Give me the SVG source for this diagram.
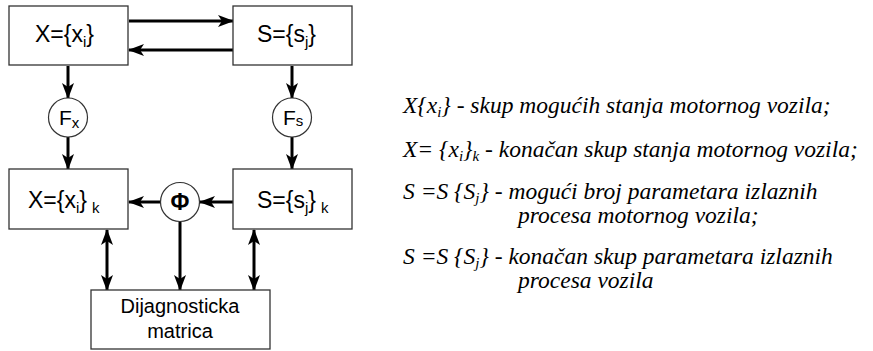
<svg xmlns="http://www.w3.org/2000/svg" width="873" height="351" viewBox="0 0 873 351">
<style>
.box{fill:#fff;stroke:#333;stroke-width:1.3}
.circ{fill:#fff;stroke:#333;stroke-width:1.2}
.lbl{font-family:"Liberation Sans",Arial,sans-serif;font-size:23px;fill:#000}
.sub{font-size:15px}
.conn{stroke:#000;stroke-width:3;fill:none}
.txt{font-family:"Liberation Serif","Times New Roman",serif;font-style:italic;font-size:23.5px;fill:#000}
.tsub{font-size:15px}
</style>
<defs>
<marker id="ah" markerUnits="userSpaceOnUse" markerWidth="16" markerHeight="12" viewBox="0 0 16 12" refX="15" refY="6" orient="auto-start-reverse">
<path d="M0,0 L16,6 L0,12 L4,6 Z" fill="#000"/>
</marker>
</defs>
<rect width="873" height="351" fill="#fff"/>
<g id="connectors">
<line class="conn" x1="129" y1="21" x2="233" y2="21" marker-end="url(#ah)"/>
<line class="conn" x1="233" y1="50" x2="129" y2="50" marker-end="url(#ah)"/>
<line class="conn" x1="68" y1="66" x2="68" y2="98" marker-end="url(#ah)"/>
<line class="conn" x1="68" y1="137" x2="68" y2="169" marker-end="url(#ah)"/>
<line class="conn" x1="292" y1="66" x2="292" y2="98" marker-end="url(#ah)"/>
<line class="conn" x1="292" y1="137" x2="292" y2="169" marker-end="url(#ah)"/>
<line class="conn" x1="233" y1="202" x2="200" y2="202" marker-end="url(#ah)"/>
<line class="conn" x1="160" y1="202" x2="129" y2="202" marker-end="url(#ah)"/>
<line class="conn" x1="180" y1="222" x2="180" y2="290" marker-end="url(#ah)"/>
<line class="conn" x1="107" y1="230" x2="107" y2="290" marker-start="url(#ah)" marker-end="url(#ah)"/>
<line class="conn" x1="254" y1="230" x2="254" y2="290" marker-start="url(#ah)" marker-end="url(#ah)"/>
</g>
<g id="node-X">
<rect class="box" x="9" y="6" width="119" height="59"/>
<text class="lbl" x="35" y="42">X={x<tspan class="sub" dy="5">i</tspan><tspan dy="-5">}</tspan></text>
</g>
<g id="node-S">
<rect class="box" x="233" y="6" width="119" height="59"/>
<text class="lbl" x="257" y="42">S={s<tspan class="sub" dy="5">j</tspan><tspan dy="-5">}</tspan></text>
</g>
<g id="node-Fx">
<circle class="circ" cx="68" cy="117.5" r="19.5"/>
<text class="lbl" x="59" y="125" style="font-size:21px">F<tspan class="sub" dy="3">x</tspan></text>
</g>
<g id="node-Fs">
<circle class="circ" cx="292" cy="117.5" r="19.5"/>
<text class="lbl" x="283" y="125" style="font-size:21px">F<tspan class="sub" dy="1">s</tspan></text>
</g>
<g id="node-Xk">
<rect class="box" x="9" y="169" width="119" height="60"/>
<text class="lbl" x="28" y="208">X={x<tspan class="sub" dy="5">i</tspan><tspan dy="-5">}</tspan><tspan class="sub" dx="5" dy="5">k</tspan></text>
</g>
<g id="node-Sk">
<rect class="box" x="233" y="169" width="119" height="60"/>
<text class="lbl" x="257" y="208">S={s<tspan class="sub" dy="5">j</tspan><tspan dy="-5">}</tspan><tspan class="sub" dx="5" dy="5">k</tspan></text>
</g>
<g id="node-Phi">
<circle class="circ" cx="180" cy="202" r="19.5"/>
<text class="lbl" x="180" y="210" text-anchor="middle" style="font-weight:bold;font-size:23px">Φ</text>
</g>
<g id="node-D">
<rect class="box" x="91" y="290" width="179" height="59"/>
<text class="lbl" x="180" y="313" text-anchor="middle" style="font-size:20px">Dijagnosticka</text>
<text class="lbl" x="180" y="338" text-anchor="middle" style="font-size:20px">matrica</text>
</g>
<g id="legend">
<text class="txt" x="403" y="113">X{x<tspan class="tsub" dy="4">i</tspan><tspan dy="-4">} - skup mogućih stanja motornog vozila;</tspan></text>
<text class="txt" x="403" y="157">X= {x<tspan class="tsub" dy="4">i</tspan><tspan dy="-4">}</tspan><tspan class="tsub" dy="4">k</tspan><tspan dy="-4"> - konačan skup stanja motornog vozila;</tspan></text>
<text class="txt" x="403" y="199">S =S {S<tspan class="tsub" dy="4">j</tspan><tspan dy="-4">} - mogući broj parametara izlaznih</tspan></text>
<text class="txt" x="518" y="223">procesa motornog vozila;</text>
<text class="txt" x="403" y="264">S =S {S<tspan class="tsub" dy="4">j</tspan><tspan dy="-4">} - konačan skup parametara izlaznih</tspan></text>
<text class="txt" x="518" y="288">procesa vozila</text>
</g>
</svg>
